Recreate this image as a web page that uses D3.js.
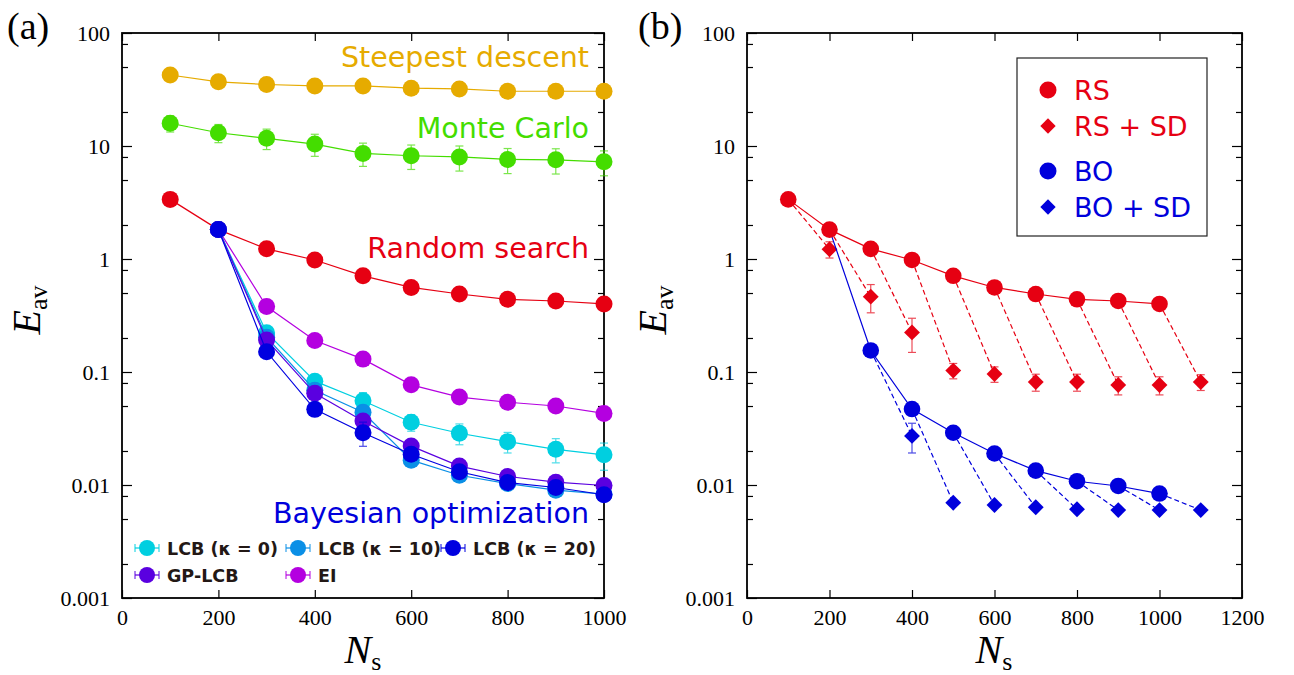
<!DOCTYPE html>
<html>
<head>
<meta charset="utf-8">
<script src="https://cdn.jsdelivr.net/npm/d3@7"></script>
<style>
  body { margin: 0; background: #fff; }
  .tick text { font-family: "Liberation Serif", "Times New Roman", serif; font-size: 22px; fill: #000; }
</style>
</head>
<body>
<div id="chart"></div>
<script>
// panel (a) data
var nsA = [100, 200, 300, 400, 500, 600, 700, 800, 900, 1000];
var nsBO = [200, 300, 400, 500, 600, 700, 800, 900, 1000];
var sdVals = [42.5, 37, 35, 34, 34, 32.5, 32, 30.5, 30.5, 30.5];
var mcVals = [15.9, 13.1, 11.7, 10.4, 8.6, 8.2, 8.0, 7.6, 7.55, 7.25];
var mcErr = [2.6, 2.4, 2.4, 2.3, 2.0, 2.0, 2.0, 1.9, 1.9, 1.8];
var rsVals = [3.37, 1.82, 1.23, 0.98, 0.71, 0.56, 0.49, 0.44, 0.425, 0.40];
var lcb0Vals = [1.82, 0.223, 0.083, 0.0557, 0.0359, 0.0287, 0.0242, 0.0207, 0.0185];
var lcb0Err = [0, 0.02, 0.01, 0.01, 0.006, 0.006, 0.005, 0.005, 0.005];
var lcb10Vals = [1.82, 0.203, 0.069, 0.044, 0.0166, 0.0122, 0.0103, 0.009, 0.0083];
var lcb20Vals = [1.82, 0.151, 0.0467, 0.029, 0.0187, 0.0131, 0.0105, 0.0095, 0.0082];
var lcb20Err = [0, 0.01, 0.006, 0.007, 0.002, 0.001, 0.001, 0.001, 0.001];
var gpVals = [1.82, 0.192, 0.0648, 0.0368, 0.0221, 0.0147, 0.0119, 0.0106, 0.0099];
var eiVals = [1.82, 0.38, 0.19, 0.13, 0.077, 0.060, 0.054, 0.050, 0.043];
var eiErr = [0, 0.02, 0.01, 0.008, 0.004, 0.003, 0.003, 0.004, 0.005];

// panel (b) data
var rssdNs = [200, 300, 400, 500, 600, 700, 800, 900, 1000, 1100];
var rssdVals = [1.22, 0.464, 0.224, 0.103, 0.096, 0.0816, 0.0816, 0.0767, 0.0767, 0.0816];
var rssdErr = [0.2, 0.13, 0.075, 0.016, 0.015, 0.014, 0.014, 0.014, 0.014, 0.013];
var boVals = [1.82, 0.155, 0.047, 0.029, 0.019, 0.0134, 0.0108, 0.0098, 0.0084];
var bosdNs = [400, 500, 600, 700, 800, 900, 1000, 1100];
var bosdVals = [0.0272, 0.00697, 0.00665, 0.00635, 0.0061, 0.0060, 0.0060, 0.0060];
var bosdErr = [0.008, 0, 0, 0, 0, 0, 0, 0];

var yTicks = [0.001, 0.01, 0.1, 1, 10, 100];
var yTickLabels = ["0.001", "0.01", "0.1", "1", "10", "100"];

var svg = d3.select("#chart").append("svg")
  .attr("width", 1294)
  .attr("height", 675);

var RED = "#e60012", BLUE = "#0000dc";
var SANS = "DejaVu Sans, Noto Sans, sans-serif";

// minor ticks at 2, 5, 8 in each decade
var yMinor = [];
[0.001, 0.01, 0.1, 1, 10].forEach(function(d) {
  yMinor.push(d * 2, d * 5, d * 8);
});

function makeFrame(x, y, xTicks) {
  var g = svg.append("g");
  var r = x.range(), t = y.range();
  var bottom = t[0], top = t[1];

  g.append("g").attr("transform", `translate(0,${bottom})`)
    .call(d3.axisBottom(x).tickValues(xTicks).tickSizeInner(-8).tickSizeOuter(0).tickPadding(11).tickFormat(d3.format("d")))
    .call(a => a.select(".domain").remove());
  g.append("g").attr("transform", `translate(0,${top})`)
    .call(d3.axisTop(x).tickValues(xTicks).tickSizeInner(-8).tickSizeOuter(0).tickFormat(""))
    .call(a => a.select(".domain").remove());

  g.append("g").attr("transform", `translate(${r[0]},0)`)
    .call(d3.axisLeft(y).tickValues(yTicks).tickSizeInner(-10).tickSizeOuter(0).tickPadding(12)
      .tickFormat((d, i) => yTickLabels[i]))
    .call(a => a.select(".domain").remove());
  g.append("g").attr("transform", `translate(${r[0]},0)`)
    .call(d3.axisLeft(y).tickValues(yMinor).tickSizeInner(-6).tickSizeOuter(0).tickFormat(""))
    .call(a => a.select(".domain").remove());
  g.append("g").attr("transform", `translate(${r[1]},0)`)
    .call(d3.axisRight(y).tickValues(yTicks).tickSizeInner(-10).tickSizeOuter(0).tickFormat(""))
    .call(a => a.select(".domain").remove());
  g.append("g").attr("transform", `translate(${r[1]},0)`)
    .call(d3.axisRight(y).tickValues(yMinor).tickSizeInner(-6).tickSizeOuter(0).tickFormat(""))
    .call(a => a.select(".domain").remove());

  g.selectAll(".tick line").attr("stroke", "#000").attr("stroke-width", 1.2);

  g.append("rect")
    .attr("x", r[0]).attr("y", top)
    .attr("width", r[1] - r[0]).attr("height", bottom - top)
    .attr("fill", "none").attr("stroke", "#000").attr("stroke-width", 1.8);
}

function axisTitles(cx, yLabelX, panel, panelX) {
  // x title N_s
  var xt = svg.append("text")
    .attr("x", cx).attr("y", 663)
    .attr("text-anchor", "middle")
    .attr("font-family", "Liberation Serif, serif")
    .attr("font-size", 40);
  xt.append("tspan").attr("font-style", "italic").text("N");
  xt.append("tspan").attr("font-size", 26).attr("dy", 7).text("s");

  // y title E_av
  var yt = svg.append("text")
    .attr("transform", `translate(${yLabelX},310) rotate(-90)`)
    .attr("text-anchor", "middle")
    .attr("font-family", "Liberation Serif, serif")
    .attr("font-size", 40);
  yt.append("tspan").attr("font-style", "italic").text("E");
  yt.append("tspan").attr("font-size", 26).attr("dy", 7).text("av");

  svg.append("text")
    .attr("x", panelX).attr("y", 39)
    .attr("font-family", "Liberation Serif, serif")
    .attr("font-size", 38)
    .text(panel);
}

function drawErr(x, y, xs, vals, errs, color) {
  var g = svg.append("g").attr("stroke", color).attr("stroke-width", 1.2).attr("opacity", 0.7);
  xs.forEach(function(n, i) {
    var e = errs[i];
    if (!e) return;
    var cx = x(n);
    var lo = Math.max(vals[i] - e, 0.0011);
    var y1 = y(vals[i] + e), y2 = y(lo);
    g.append("line").attr("x1", cx).attr("x2", cx).attr("y1", y1).attr("y2", y2);
    g.append("line").attr("x1", cx - 4).attr("x2", cx + 4).attr("y1", y1).attr("y2", y1);
    g.append("line").attr("x1", cx - 4).attr("x2", cx + 4).attr("y1", y2).attr("y2", y2);
  });
}

function drawSeries(x, y, xs, vals, color, opts) {
  opts = opts || {};
  var pts = xs.map((n, i) => [n, vals[i]]);
  var line = d3.line().x(d => x(d[0])).y(d => y(d[1]));
  svg.append("path")
    .attr("d", line(pts))
    .attr("fill", "none")
    .attr("stroke", color)
    .attr("stroke-width", 1.2);
  if (opts.err) drawErr(x, y, xs, vals, opts.err, color);
  var start = opts.skipFirst ? 1 : 0;
  svg.append("g").selectAll("circle")
    .data(pts.slice(start))
    .join("circle")
    .attr("cx", d => x(d[0]))
    .attr("cy", d => y(d[1]))
    .attr("r", opts.r || 8.5)
    .attr("fill", color);
}

// ---------- panel (a) ----------
var xA = d3.scaleLinear().domain([0, 1000]).range([122, 604]);
var yA = d3.scaleLog().domain([0.001, 100]).range([598, 33]);

makeFrame(xA, yA, [0, 200, 400, 600, 800, 1000]);
axisTitles(363, 40, "(a)", 7);

var cSD = "#e6ab00", cMC = "#44dd00", cL0 = "#00cfe0", cL10 = "#0a8fe6", cL20 = "#0000e0", cGP = "#5a00e0", cEI = "#b400e0";

drawSeries(xA, yA, nsA, sdVals, cSD);
drawSeries(xA, yA, nsA, mcVals, cMC, {err: mcErr});
drawSeries(xA, yA, nsA, rsVals, RED);
drawSeries(xA, yA, nsBO, eiVals, cEI, {err: eiErr});
drawSeries(xA, yA, nsBO, lcb0Vals, cL0, {err: lcb0Err});
drawSeries(xA, yA, nsBO, lcb10Vals, cL10);
drawSeries(xA, yA, nsBO, gpVals, cGP);
drawSeries(xA, yA, nsBO, lcb20Vals, cL20, {err: lcb20Err});

// text annotations
var annot = [
  {t: "Steepest descent", y: 67, c: cSD},
  {t: "Monte Carlo", y: 138, c: cMC},
  {t: "Random search", y: 258, c: RED},
  {t: "Bayesian optimization", y: 523, c: BLUE}
];
svg.selectAll(".annot").data(annot).join("text")
  .attr("x", 589).attr("y", d => d.y)
  .attr("text-anchor", "end")
  .attr("font-family", SANS)
  .attr("font-size", 28.5)
  .attr("fill", d => d.c)
  .text(d => d.t);

// legend (a)
var legA = [
  {t: "LCB (\u03ba = 0)", c: cL0, x: 147, y: 548},
  {t: "LCB (\u03ba = 10)", c: cL10, x: 298, y: 548},
  {t: "LCB (\u03ba = 20)", c: cL20, x: 453, y: 548},
  {t: "GP-LCB", c: cGP, x: 147, y: 575},
  {t: "EI", c: cEI, x: 298, y: 575}
];
var lg = svg.append("g").selectAll("g").data(legA).join("g")
  .attr("transform", d => `translate(${d.x},${d.y})`);
lg.append("line").attr("x1", -12).attr("x2", 12).attr("stroke", d => d.c).attr("stroke-width", 1.2);
lg.append("line").attr("x1", -12).attr("x2", -12).attr("y1", -4).attr("y2", 4).attr("stroke", d => d.c);
lg.append("line").attr("x1", 12).attr("x2", 12).attr("y1", -4).attr("y2", 4).attr("stroke", d => d.c);
lg.append("circle").attr("r", 8).attr("fill", d => d.c);
lg.append("text")
  .attr("x", 20).attr("y", 7)
  .attr("font-family", SANS)
  .attr("font-weight", "bold")
  .attr("font-size", 17.5)
  .attr("fill", "#231815")
  .text(d => d.t);

// ---------- panel (b) ----------
var xB = d3.scaleLinear().domain([0, 1200]).range([747, 1242]);
var yB = d3.scaleLog().domain([0.001, 100]).range([598, 33]);

makeFrame(xB, yB, [0, 200, 400, 600, 800, 1000, 1200]);
axisTitles(994, 666, "(b)", 638);

function dashedLinks(fromNs, fromVals, toNs, toVals, color) {
  var g = svg.append("g");
  fromNs.forEach(function(n, i) {
    var j = toNs.indexOf(n + 100);
    if (j < 0) return;
    g.append("line")
      .attr("x1", xB(n)).attr("y1", yB(fromVals[i]))
      .attr("x2", xB(toNs[j])).attr("y2", yB(toVals[j]))
      .attr("stroke", color).attr("stroke-width", 1.2)
      .attr("stroke-dasharray", "5,3");
  });
}

function diamonds(xs, vals, errs, color) {
  drawErr(xB, yB, xs, vals, errs, color);
  svg.append("g").selectAll("path")
    .data(xs.map((n, i) => [n, vals[i]]))
    .join("path")
    .attr("d", d3.symbol(d3.symbolDiamond2, 160))
    .attr("transform", d => `translate(${xB(d[0])},${yB(d[1])})`)
    .attr("fill", color);
}

dashedLinks(nsA, rsVals, rssdNs, rssdVals, RED);
dashedLinks(nsBO, boVals, bosdNs, bosdVals, BLUE);
diamonds(rssdNs, rssdVals, rssdErr, RED);
diamonds(bosdNs, bosdVals, bosdErr, BLUE);
drawSeries(xB, yB, nsBO, boVals, BLUE, {r: 8.3, skipFirst: true});
drawSeries(xB, yB, nsA, rsVals, RED, {r: 8.3});

// legend (b)
var legBox = svg.append("g").attr("transform", "translate(1017,58)");
legBox.append("rect").attr("width", 190).attr("height", 178)
  .attr("fill", "#fff").attr("stroke", "#222").attr("stroke-width", 1.2);
var legB = [
  {t: "RS", c: RED, y: 32, s: "c"},
  {t: "RS + SD", c: RED, y: 68, s: "d"},
  {t: "BO", c: BLUE, y: 113, s: "c"},
  {t: "BO + SD", c: BLUE, y: 149, s: "d"}
];
var lb = legBox.selectAll("g").data(legB).join("g")
  .attr("transform", d => `translate(31,${d.y})`);
lb.filter(d => d.s === "c").append("circle").attr("r", 8.5).attr("fill", d => d.c);
lb.filter(d => d.s === "d").append("path")
  .attr("d", d3.symbol(d3.symbolDiamond2, 150))
  .attr("fill", d => d.c);
lb.append("text")
  .attr("x", 26).attr("y", 10)
  .attr("font-family", SANS)
  .attr("font-size", 27)
  .attr("fill", d => d.c)
  .text(d => d.t);
</script>
</body>
</html>
